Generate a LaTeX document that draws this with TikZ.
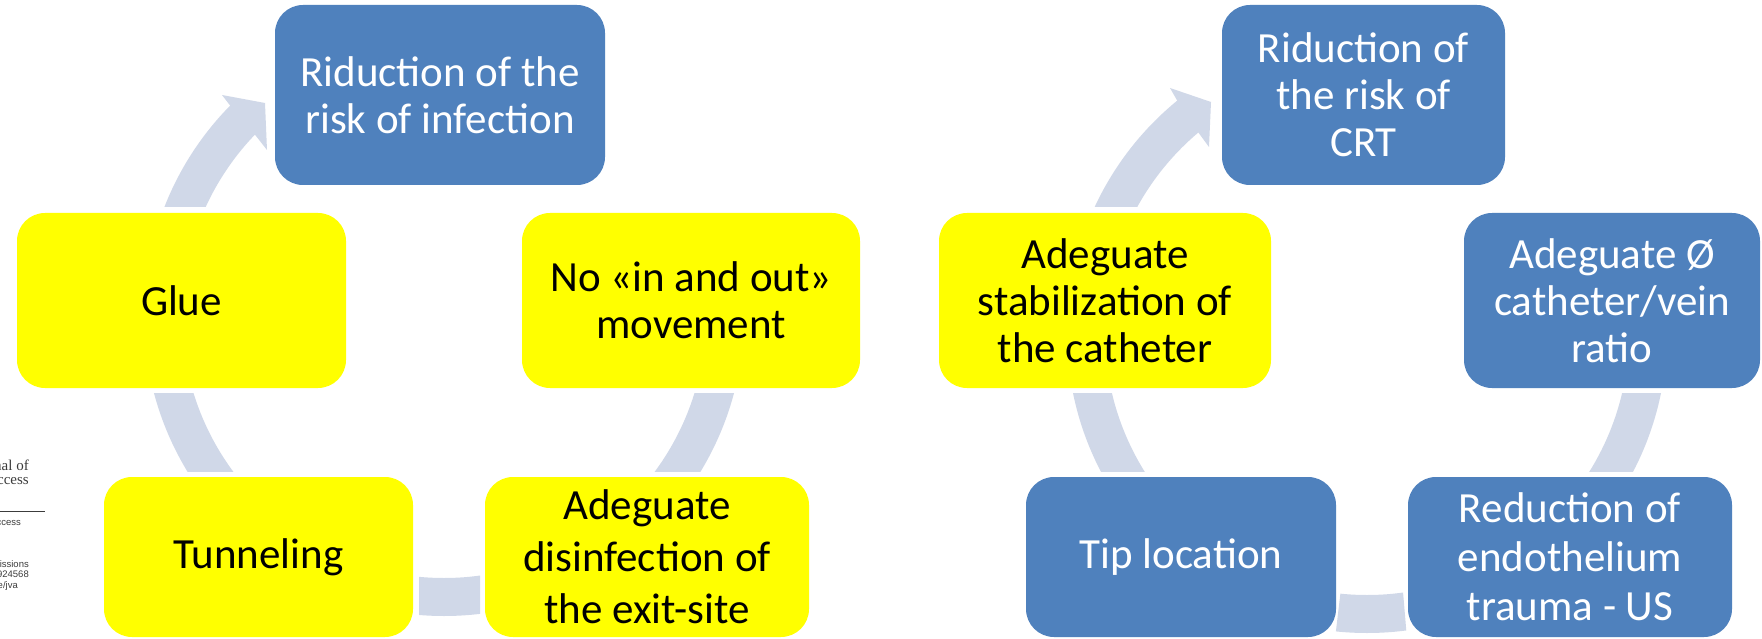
\documentclass[tikz,border=0pt]{standalone}
\usepackage{fontspec}
\setmainfont{Carlito}
\newfontfamily\jserif{Liberation Serif}
\newfontfamily\jsans{Liberation Sans}
\definecolor{boxblue}{RGB}{79,129,189}
\definecolor{boxyellow}{RGB}{255,255,0}
\definecolor{ringc}{RGB}{208,216,232}
\definecolor{jtext}{RGB}{60,60,60}
\newcommand{\ringleft}{\fill[ringc, even odd rule] (444,316) circle[radius=300pt] (444,316) circle[radius=262pt];}
\newcommand{\ringright}{\fill[ringc, even odd rule] (1367,333) circle[radius=300pt] (1367,333) circle[radius=262pt];}
\begin{document}
\begin{tikzpicture}[x=1pt,y=-1pt,
  box/.style={rounded corners=28pt, inner sep=0pt, align=center, font=\fontsize{43}{47}\selectfont},
  bluebox/.style={box, fill=boxblue, text=white},
  yelbox/.style={box, fill=boxyellow, text=black},
  jser/.style={anchor=base east, inner sep=0pt, text=jtext, font=\jserif\fontsize{15}{15}\selectfont},
  jsan/.style={anchor=base east, inner sep=0pt, text=jtext, font=\jsans\fontsize{9.5}{9.5}\selectfont},
]
\clip (0,0) rectangle (1762,639);
\fill[white] (0,0) rectangle (1762,639);

% ---- ring segments, left cycle
\begin{scope}\clip (100,393) rectangle (300,471); \ringleft\end{scope}
\begin{scope}\clip (600,393) rectangle (800,471); \ringleft\end{scope}
\begin{scope}\clip (419,560) rectangle (480,639); \ringleft\end{scope}
\begin{scope}\clip (120,207) -- (318,207) -- (189,55) -- (120,55) -- cycle; \ringleft\end{scope}
\fill[ringc] (232,108) -- (222,95) -- (265,103) -- (267,150) -- (256,136) -- cycle;

% ---- ring segments, right cycle
\begin{scope}\clip (1040,393) rectangle (1200,471); \ringright\end{scope}
\begin{scope}\clip (1550,393) rectangle (1720,471); \ringright\end{scope}
\begin{scope}\clip (1342,580) -- (1402,580) -- (1407,639) -- (1335,639) -- cycle; \ringright\end{scope}
\begin{scope}\clip (1050,207) -- (1249,207) -- (1143,45) -- (1050,45) -- cycle; \ringright\end{scope}
\fill[ringc] (1178,102) -- (1170,88) -- (1211,102) -- (1209,147) -- (1198,132) -- cycle;

% ---- left cycle boxes
\node[bluebox, minimum width=330pt, minimum height=180pt] (t1) at (440,95) {Riduction of the\\risk of infection};
\node[yelbox, minimum width=329pt, minimum height=175pt] (glue) at (181.5,300.5) {Glue};
\node[yelbox, minimum width=338pt, minimum height=175pt] (noio) at (691,300.5) {No «in and out»\\movement};
\node[yelbox, minimum width=309pt, minimum height=160pt] (tunnel) at (258.5,557) {Tunneling};
\node[yelbox, minimum width=324pt, minimum height=160pt, font=\fontsize{43}{52}\selectfont] (disinf) at (647,557) {Adeguate\\disinfection of\\the exit-site};

% ---- right cycle boxes
\node[bluebox, minimum width=283pt, minimum height=180pt] (t2) at (1363.5,95) {Riduction of\\the risk of\\CRT};
\node[yelbox, minimum width=332pt, minimum height=175pt] (stab) at (1105,300.5) {Adeguate\\stabilization of\\the catheter};
\node[bluebox, minimum width=296pt, minimum height=175pt] (ratio) at (1612,300.5) {Adeguate Ø\\catheter/vein\\ratio};
\node[bluebox, minimum width=310pt, minimum height=160pt] (tip) at (1181,557) {Tip location};
\node[bluebox, minimum width=324pt, minimum height=160pt, font=\fontsize{43}{49}\selectfont] (endo) at (1570,557) {Reduction of\\endothelium\\trauma - US};

% ---- journal page fragment at the left edge
\node[jser] (j1) at (29,470) {nal of};
\node[jser] (j2) at (29,484) {Access};
\coordinate (ja) at (0,511);
\coordinate (jb) at (45,511);
\draw[jtext, line width=0.8pt] (ja) -- (jb);
\node[jsan] (j3) at (21,525) {ccess};
\node[jsan] (j4) at (29,567) {missions};
\node[jsan] (j5) at (29,577) {0924568};
\node[jsan] (j6) at (18,588) {e/jva};
\end{tikzpicture}
\end{document}
